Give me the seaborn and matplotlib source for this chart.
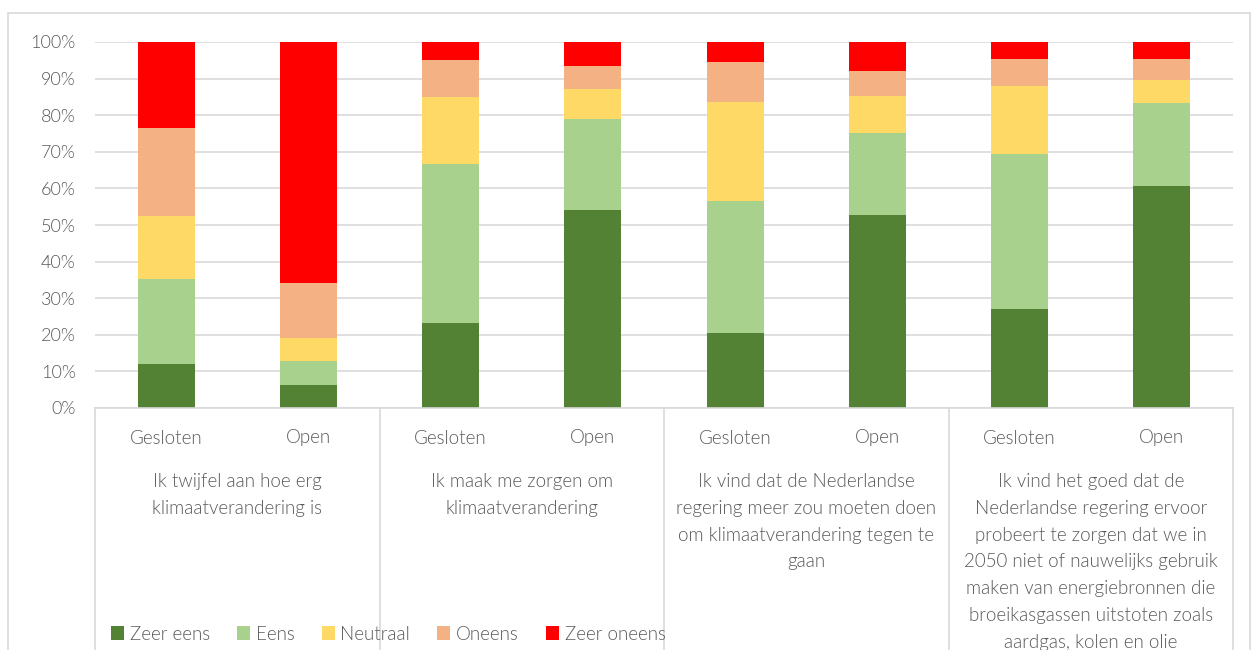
import matplotlib
matplotlib.use("Agg")
import matplotlib.pyplot as plt
import matplotlib.transforms as mtransforms
from matplotlib.patches import Patch, Rectangle
import numpy as np
import pandas as pd
import seaborn as sns

# data (percent per answer, per bar)
groups = [
    "Ik twijfel aan hoe erg\nklimaatverandering is",
    "Ik maak me zorgen om\nklimaatverandering",
    "Ik vind dat de Nederlandse\nregering meer zou moeten doen\nom klimaatverandering tegen te\ngaan",
    "Ik vind het goed dat de\nNederlandse regering ervoor\nprobeert te zorgen dat we in\n2050 niet of nauwelijks gebruik\nmaken van energiebronnen die\nbroeikasgassen uitstoten zoals\naardgas, kolen en olie",
]
conditions = ["Gesloten", "Open"]
answers = ["Zeer eens", "Eens", "Neutraal", "Oneens", "Zeer oneens"]
colors = ["#548235", "#A9D18E", "#FFD966", "#F4B183", "#FF0000"]

zeer_eens = [11.9, 6.2, 23.3, 54.1, 20.6, 52.7, 27.0, 60.7]
eens = [23.3, 6.7, 43.4, 24.9, 35.9, 22.4, 42.3, 22.7]
neutraal = [17.3, 6.2, 18.3, 8.2, 27.1, 10.1, 18.7, 6.3]
oneens = [24.1, 15.1, 10.2, 6.2, 10.9, 6.9, 7.4, 5.7]
zeer_oneens = [23.4, 65.8, 4.8, 6.6, 5.5, 7.9, 4.6, 4.6]

sns.set_style("white")
plt.rcParams["font.family"] = ["Lato", "DejaVu Sans"]
plt.rcParams["font.weight"] = 300
text_col = "#595959"
grid_col = "#D9D9D9"

df = pd.DataFrame({"Zeer eens": zeer_eens, "Eens": eens, "Neutraal": neutraal,
                   "Oneens": oneens, "Zeer oneens": zeer_oneens})
df = df.div(df.sum(axis=1), axis=0)
df["bar"] = [str(i) for i in range(len(df))]
cum = df[answers].cumsum(axis=1)
cum["bar"] = df["bar"]

fig = plt.figure(figsize=(12.58, 6.5), dpi=100)
ax = fig.add_axes([95 / 1258, 1 - 408 / 650, 1138 / 1258, 366 / 650])

# stacked bars: draw cumulative totals from top layer down
for ans, col in reversed(list(zip(answers, colors))):
    sns.barplot(data=cum, x="bar", y=ans, color=col, width=0.4, ax=ax,
                order=list(df["bar"]), linewidth=0, saturation=1)

ax.set_xlim(-0.5, 7.5)
ax.set_ylim(0, 1)
ax.set_yticks(np.arange(0, 1.01, 0.1))
ax.set_yticklabels([f"{int(round(v * 100))}%" for v in np.arange(0, 1.01, 0.1)],
                   color=text_col, fontsize=13)
ax.tick_params(axis="y", length=0, pad=14)
ax.set_xticks([])
ax.set_xlabel("")
ax.set_ylabel("")
ax.grid(axis="y", color=grid_col, linewidth=1.2)
ax.set_axisbelow(True)
for s in ["left", "right", "top"]:
    ax.spines[s].set_visible(False)
ax.spines["bottom"].set_color(grid_col)
ax.spines["bottom"].set_linewidth(1.2)

# category box below the axis
trans = mtransforms.blended_transform_factory(ax.transData, fig.transFigure)
for xd in [-0.5, 1.5, 3.5, 5.5, 7.5]:
    ax.plot([xd, xd], [1 - 408 / 650, -0.05], transform=trans, color=grid_col,
            lw=1.2, clip_on=False)

for gi, g in enumerate(groups):
    for ci, c in enumerate(conditions):
        ax.text(gi * 2 + ci, 1 - 438 / 650, c, transform=trans, ha="center",
                va="center", fontsize=13.5, color=text_col)
    ax.text(gi * 2 + 0.5, 1 - 473 / 650, g, transform=trans, ha="center",
            va="top", fontsize=13.5, color=text_col, linespacing=1.7)

# outer chart frame
fig.patches.append(Rectangle((8 / 1258, -0.1), 1242 / 1258, 1.1 - 13 / 650,
                             transform=fig.transFigure, fill=False,
                             edgecolor=grid_col, lw=1.2))

handles = [Patch(facecolor=c, edgecolor="none", label=a) for a, c in zip(answers, colors)]
fig.legend(handles=handles, loc="center left", bbox_to_anchor=(94 / 1258, 1 - 634 / 650),
           ncol=5, frameon=False, fontsize=13.5, labelcolor=text_col,
           handlelength=0.7, handleheight=0.7, handletextpad=0.3,
           columnspacing=1.45)

fig.savefig("out.png", dpi=100)
